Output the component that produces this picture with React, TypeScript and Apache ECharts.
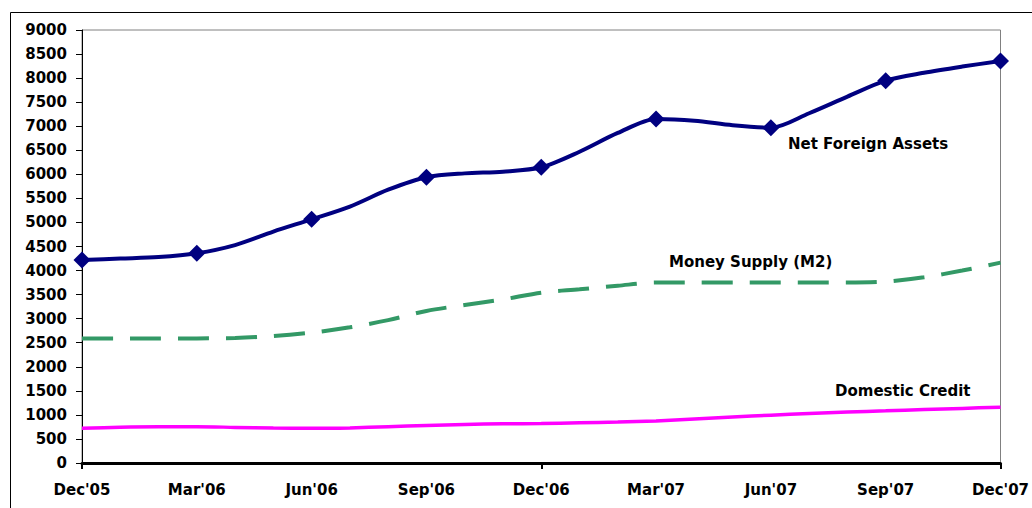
import React, { useEffect, useRef } from "react";
import * as echarts from "echarts";

const months = [
  "Dec'05", "Jan'06", "Feb'06", "Mar'06", "Apr'06", "May'06", "Jun'06", "Jul'06", "Aug'06",
  "Sep'06", "Oct'06", "Nov'06", "Dec'06", "Jan'07", "Feb'07", "Mar'07", "Apr'07", "May'07",
  "Jun'07", "Jul'07", "Aug'07", "Sep'07", "Oct'07", "Nov'07", "Dec'07",
];

const netForeignAssets = [
  4220, 4250, 4280, 4360, 4530, 4810, 5065, 5330, 5680, 5940, 6020, 6055, 6146,
  6470, 6860, 7150, 7115, 7020, 6970, 7270, 7615, 7946, 8110, 8240, 8356,
];

const moneySupply = [
  2590, 2590, 2590, 2590, 2600, 2640, 2710, 2820, 2970, 3160, 3285, 3400, 3540,
  3610, 3685, 3750, 3750, 3750, 3750, 3750, 3750, 3770, 3860, 4000, 4165,
];

const domesticCredit = [
  720, 745, 755, 755, 740, 725, 720, 730, 755, 780, 800, 815, 820,
  835, 850, 875, 915, 955, 995, 1030, 1060, 1085, 1110, 1135, 1160,
];

const seriesNames = ["Net Foreign Assets", "Money Supply (M2)", "Domestic Credit"];

const FONT = "'DejaVu Sans', 'Liberation Sans', Arial, sans-serif";

export default function App() {
  const ref = useRef<HTMLDivElement>(null);

  useEffect(() => {
    document.body.style.margin = "0";
    if (!ref.current) return;
    const chart = echarts.init(ref.current, undefined, { renderer: "svg" });
    chart.setOption({
      animation: false,
      backgroundColor: "#ffffff",
      grid: {
        left: 82,
        top: 30,
        right: 30,
        bottom: 45,
        show: true,
        borderColor: "#808080",
        borderWidth: 1,
        backgroundColor: "transparent",
      },
      xAxis: {
        type: "category",
        data: months,
        boundaryGap: false,
        axisLine: { show: true, lineStyle: { color: "#000", width: 3 } },
        axisTick: { show: true, interval: 11, length: 6, lineStyle: { color: "#000", width: 2 } },
        axisLabel: {
          interval: 2,
          margin: 19,
          color: "#000",
          fontFamily: FONT,
          fontWeight: "bold",
          fontSize: 15,
        },
        splitLine: { show: false },
      },
      yAxis: {
        type: "value",
        min: 0,
        max: 9000,
        interval: 500,
        axisLine: { show: true, lineStyle: { color: "#000", width: 1 } },
        axisTick: { show: true, length: 6, lineStyle: { color: "#000", width: 1 } },
        axisLabel: {
          margin: 15,
          color: "#000",
          fontFamily: FONT,
          fontWeight: "bold",
          fontSize: 15,
          formatter: (v: number) => String(v),
        },
        splitLine: { show: false },
      },
      series: [
        {
          name: seriesNames[0],
          type: "line",
          data: netForeignAssets.map((v, i) => ({
            value: v,
            symbol: i % 3 === 0 ? "diamond" : "none",
          })),
          showAllSymbol: true,
          symbolSize: 17,
          smooth: 0.3,
          itemStyle: { color: "#000080" },
          lineStyle: { color: "#000080", width: 4 },
          z: 4,
        },
        {
          name: seriesNames[1],
          type: "line",
          data: moneySupply,
          symbol: "none",
          smooth: 0.3,
          lineStyle: { color: "#339966", width: 4, type: [31, 17], cap: "butt" },
          z: 3,
        },
        {
          name: seriesNames[2],
          type: "line",
          data: domesticCredit,
          symbol: "none",
          smooth: 0.3,
          lineStyle: { color: "#FF00FF", width: 3.5 },
          z: 2,
        },
      ],
      graphic: [
        {
          type: "rect",
          shape: { x: 10.5, y: 12.5, width: 1100, height: 600 },
          style: { fill: "none", stroke: "#000", lineWidth: 1 },
          silent: true,
          z: -1,
        },
        {
          type: "text",
          x: 788,
          y: 144,
          style: {
            text: seriesNames[0],
            fill: "#000",
            font: `bold 15px ${FONT}`,
            textAlign: "left",
            textVerticalAlign: "middle",
          },
        },
        {
          type: "text",
          x: 669,
          y: 262,
          style: {
            text: seriesNames[1],
            fill: "#000",
            font: `bold 15px ${FONT}`,
            textAlign: "left",
            textVerticalAlign: "middle",
          },
        },
        {
          type: "text",
          x: 835,
          y: 391,
          style: {
            text: seriesNames[2],
            fill: "#000",
            font: `bold 15px ${FONT}`,
            textAlign: "left",
            textVerticalAlign: "middle",
          },
        },
      ],
    });
    return () => chart.dispose();
  }, []);

  return <div ref={ref} style={{ width: 1032, height: 508 }} />;
}
